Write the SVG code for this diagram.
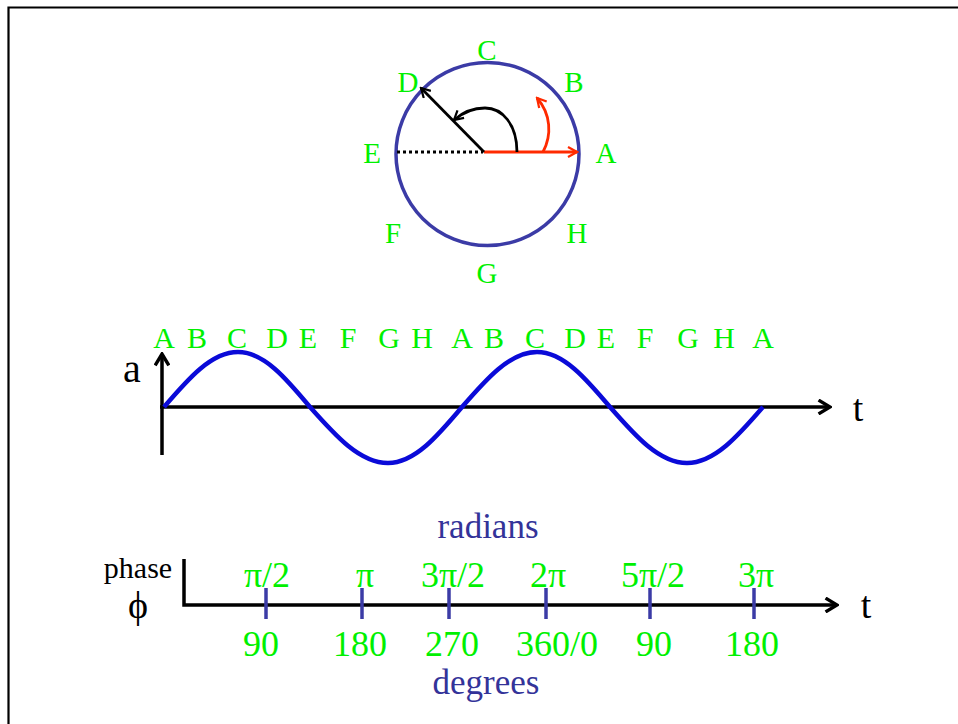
<svg xmlns="http://www.w3.org/2000/svg" width="958" height="724" viewBox="0 0 958 724">
<defs>
<style>
text{font-family:"Liberation Serif","Times New Roman",serif;text-anchor:middle}
.g{fill:#00f000;font-size:29px}
.gl{fill:#00f000;font-size:30px}
.n{fill:#00f000;font-size:36px}
.b{fill:#333399;font-size:35px}
.k{fill:#000}
.ax{stroke:#000;stroke-width:3.5;fill:none}
.tick{stroke:#3b3ba6;stroke-width:3.5}
</style>
<marker id="hk" viewBox="0 0 12 12" refX="10" refY="6" markerWidth="12" markerHeight="12" markerUnits="userSpaceOnUse" orient="auto">
<path d="M1,1 L10,6 L1,11" fill="none" stroke="#000" stroke-width="2.2"/>
</marker>
<marker id="hr" viewBox="0 0 12 12" refX="10" refY="6" markerWidth="12" markerHeight="12" markerUnits="userSpaceOnUse" orient="auto">
<path d="M1,1 L10,6 L1,11" fill="none" stroke="#ff2a00" stroke-width="2.2"/>
</marker>
<marker id="hax" viewBox="0 0 14 14" refX="12" refY="7" markerWidth="16" markerHeight="16" markerUnits="userSpaceOnUse" orient="auto">
<path d="M2,1 L12,7 L2,13" fill="none" stroke="#000" stroke-width="3"/>
</marker>
</defs>
<rect width="958" height="724" fill="#fff"/>
<path d="M8.5,724 V7.5 H958" fill="none" stroke="#000" stroke-width="2.2"/>

<g id="circle-diagram">
<circle cx="487.5" cy="154" r="91.5" fill="none" stroke="#3b3ba6" stroke-width="3.5"/>
<line x1="397" y1="152" x2="483" y2="152" stroke="#000" stroke-width="3" stroke-dasharray="3,3"/>
<line x1="484" y1="152" x2="577" y2="152" stroke="#ff2a00" stroke-width="3" marker-end="url(#hr)"/>
<line x1="484" y1="152" x2="421" y2="88" stroke="#000" stroke-width="2.8" marker-end="url(#hk)"/>
<path d="M517,152 C517,124 502,108 485,108 C472,108 462,113 454,120" fill="none" stroke="#000" stroke-width="2.8" marker-end="url(#hk)"/>
<path d="M543,152 C552,135 551,114 537,98" fill="none" stroke="#ff2a00" stroke-width="2.8" marker-end="url(#hr)"/>
<text class="g" x="487" y="60">C</text>
<text class="g" x="574" y="92">B</text>
<text class="g" x="408" y="92">D</text>
<text class="g" x="372" y="163">E</text>
<text class="g" x="606" y="163">A</text>
<text class="g" x="393" y="243">F</text>
<text class="g" x="577" y="243">H</text>
<text class="g" x="487" y="283">G</text>
</g>

<g id="wave-plot">
<line class="ax" x1="162" y1="455" x2="162" y2="354" marker-end="url(#hax)"/>
<line class="ax" x1="160" y1="407" x2="830" y2="407" marker-end="url(#hax)"/>
<path d="M164,407 C188.13,378.82 211.22,352 238,352 C264.06,352 286.52,378.82 310,407 C335.44,435.69 359.77,463 388,463 C414.78,463 437.87,435.69 462,407 C486.46,378.82 509.86,352 537,352 C563.42,352 586.19,378.82 610,407 C635.11,435.69 659.13,463 687,463 C714.5,463 738.22,435.69 763,407" fill="none" stroke="#0a0ad8" stroke-width="4.5"/>
<text class="k" x="132" y="382" style="font-size:40px">a</text>
<text class="k" x="858" y="421" style="font-size:38px">t</text>
<g>
<text class="gl" x="164" y="348">A</text>
<text class="gl" x="197" y="348">B</text>
<text class="gl" x="237" y="348">C</text>
<text class="gl" x="277" y="348">D</text>
<text class="gl" x="308" y="348">E</text>
<text class="gl" x="348" y="348">F</text>
<text class="gl" x="389" y="348">G</text>
<text class="gl" x="422" y="348">H</text>
<text class="gl" x="462" y="348">A</text>
<text class="gl" x="494" y="348">B</text>
<text class="gl" x="535" y="348">C</text>
<text class="gl" x="575" y="348">D</text>
<text class="gl" x="606" y="348">E</text>
<text class="gl" x="645" y="348">F</text>
<text class="gl" x="688" y="348">G</text>
<text class="gl" x="724" y="348">H</text>
<text class="gl" x="763" y="348">A</text>
</g>
</g>

<g id="phase-axis">
<path class="ax" d="M184,559 V605 H837" marker-end="url(#hax)"/>
<line class="tick" x1="266" y1="588" x2="266" y2="619"/>
<line class="tick" x1="362" y1="588" x2="362" y2="619"/>
<line class="tick" x1="449" y1="588" x2="449" y2="619"/>
<line class="tick" x1="546" y1="588" x2="546" y2="619"/>
<line class="tick" x1="650" y1="588" x2="650" y2="619"/>
<line class="tick" x1="754" y1="588" x2="754" y2="619"/>
<text class="k" x="138" y="578" style="font-size:30px">phase</text>
<text class="k" x="138" y="618" style="font-size:38px">ϕ</text>
<text class="k" x="866" y="618" style="font-size:38px">t</text>
<text class="b" x="488" y="538">radians</text>
<text class="b" x="486" y="694">degrees</text>
<text class="n" x="267" y="587">π/2</text>
<text class="n" x="365" y="587">π</text>
<text class="n" x="453" y="587">3π/2</text>
<text class="n" x="548" y="587">2π</text>
<text class="n" x="653" y="587">5π/2</text>
<text class="n" x="756" y="587">3π</text>
<text class="n" x="261" y="656">90</text>
<text class="n" x="360" y="656">180</text>
<text class="n" x="452" y="656">270</text>
<text class="n" x="557" y="656">360/0</text>
<text class="n" x="654" y="656">90</text>
<text class="n" x="752" y="656">180</text>
</g>
</svg>
